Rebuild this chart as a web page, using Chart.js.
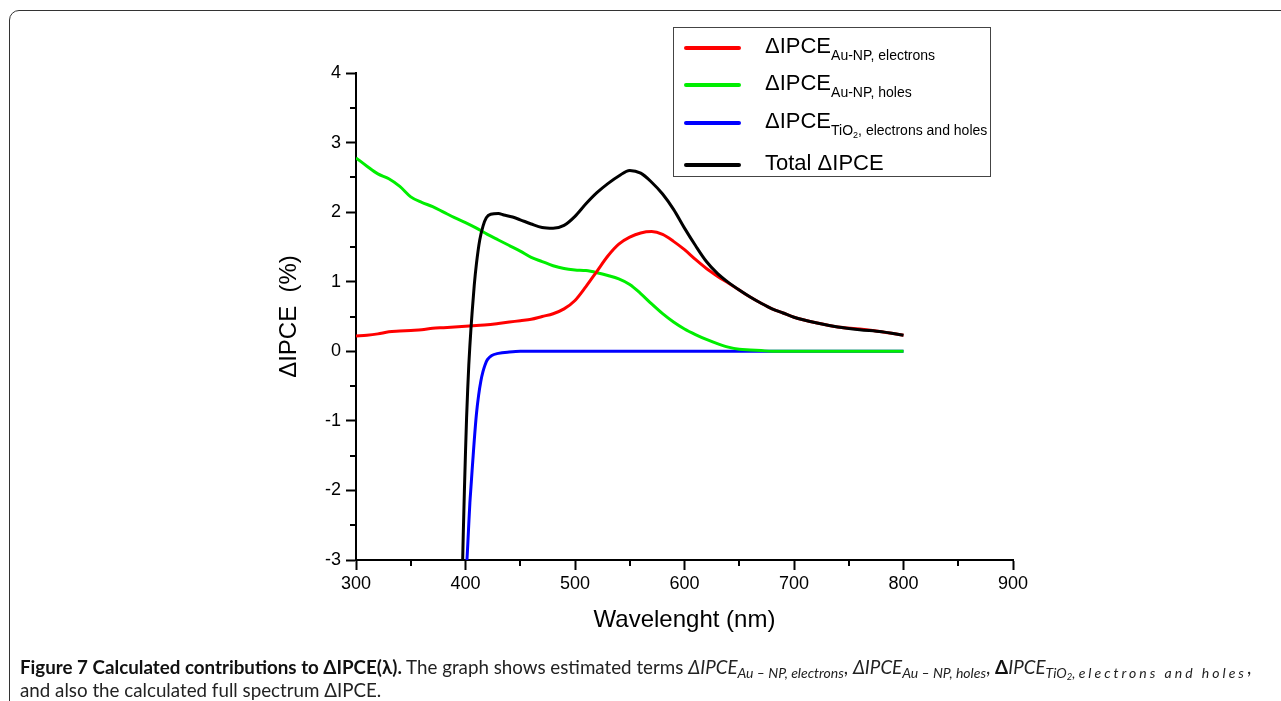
<!DOCTYPE html>
<html>
<head>
<meta charset="utf-8">
<script src="https://cdn.jsdelivr.net/npm/chart.js@4.4.1/dist/chart.umd.min.js"></script>
<style>
  body { margin: 0; background: #fff; }
  #wrap { position: relative; width: 1281px; height: 701px; overflow: hidden; }
  #frame { position: absolute; left: 9px; top: 10px; width: 1320px; height: 740px;
    border: 1.5px solid #333; border-radius: 10px; }
  #chart { position: absolute; left: 0; top: 0; }
  #legend { position: absolute; left: 673px; top: 27px; width: 316px; height: 148px;
    border: 1px solid #444; font-family: "Liberation Sans", Arial, sans-serif; color: #000; }
  .item { position: absolute; left: 0; height: 30px; width: 316px; }
  .item .ln { position: absolute; left: 10px; width: 57px; height: 4px; border-radius: 2px; }
  .item .tx { position: absolute; left: 91px; font-size: 22px; white-space: nowrap; line-height: 26px; }
  .item sub { font-size: 14px; vertical-align: -7px; line-height: 0; }
  .item sub sub { font-size: 9px; vertical-align: -3px; }
  #caption { position: absolute; left: 20px; top: 655px; font-family: Lato, sans-serif;
    font-size: 18.75px; line-height: 23px; color: #222; white-space: nowrap; }
  #caption b { color: #111; }
  #caption sub { font-size: 14px; vertical-align: -4px; line-height: 0; }
  #caption sub sub { font-size: 9.5px; vertical-align: -2px; }
  .sp { letter-spacing: 3px; }
</style>
</head>
<body>
<div id="wrap">
  <div id="frame"></div>
  <canvas id="chart" width="1281" height="701"></canvas>
  <div id="legend">
    <div class="item" style="top:3px"><div class="ln" style="top:15px;background:#ff0000"></div>
      <div class="tx" style="top:2px">&Delta;IPCE<sub>Au-NP, electrons</sub></div></div>
    <div class="item" style="top:40px"><div class="ln" style="top:15px;background:#00ee00"></div>
      <div class="tx" style="top:2px">&Delta;IPCE<sub>Au-NP, holes</sub></div></div>
    <div class="item" style="top:78px"><div class="ln" style="top:15px;background:#0000ff"></div>
      <div class="tx" style="top:2px">&Delta;IPCE<sub>TiO<sub>2</sub>, electrons and holes</sub></div></div>
    <div class="item" style="top:122px"><div class="ln" style="top:13px;background:#000"></div>
      <div class="tx" style="top:0px">Total &Delta;IPCE</div></div>
  </div>
  <div id="caption"><b>Figure 7 Calculated contributions to &Delta;IPCE(&lambda;).</b> The graph shows estimated terms <i>&Delta;IPCE</i><sub><i>Au &ndash; NP, electrons</i></sub>, <i>&Delta;IPCE</i><sub><i>Au &ndash; NP, holes</i></sub>, <b>&Delta;</b><i>IPCE</i><sub><i>TiO<sub>2</sub>, <span class="sp">electrons and holes</span></i></sub>,<br>and also the calculated full spectrum &Delta;IPCE.</div>
</div>
<script>
// wavelengths (nm) and values (%)
const elecNm = [300, 310, 320, 330, 340, 350, 360, 370, 380, 390, 400, 410, 420, 430, 440, 450, 460, 470, 480, 490, 500, 510, 520, 530, 540, 550, 560, 570, 580, 590, 600, 610, 620, 630, 640, 650, 660, 670, 680, 690, 700, 720, 740, 760, 780, 800];
const elecVal = [0.22, 0.23, 0.25, 0.28, 0.29, 0.30, 0.31, 0.33, 0.34, 0.35, 0.36, 0.37, 0.38, 0.40, 0.42, 0.44, 0.46, 0.50, 0.54, 0.61, 0.73, 0.93, 1.15, 1.37, 1.54, 1.64, 1.70, 1.72, 1.68, 1.58, 1.46, 1.32, 1.19, 1.08, 0.98, 0.88, 0.78, 0.69, 0.61, 0.55, 0.49, 0.41, 0.35, 0.32, 0.28, 0.23];

const holesNm = elecNm;
const holesVal = [2.78, 2.66, 2.55, 2.48, 2.37, 2.22, 2.14, 2.08, 2.00, 1.92, 1.85, 1.77, 1.68, 1.60, 1.52, 1.44, 1.35, 1.29, 1.23, 1.19, 1.17, 1.16, 1.13, 1.09, 1.04, 0.96, 0.83, 0.68, 0.54, 0.42, 0.32, 0.24, 0.17, 0.11, 0.06, 0.03, 0.02, 0.01, 0, 0, 0, 0, 0, 0, 0, 0];

const tioNm = [401, 402, 403, 404, 405, 406, 407, 408, 410, 412, 414, 416, 418, 420, 424, 430, 440, 450, 500, 600, 700, 800];
const tioVal = [-3.1, -2.8, -2.48, -2.18, -1.95, -1.72, -1.5, -1.28, -0.9, -0.63, -0.43, -0.29, -0.19, -0.12, -0.06, -0.03, -0.01, 0, 0, 0, 0, 0];

const totalNm = [397, 398, 399, 400, 401, 402, 403, 404, 405, 406, 408, 410, 413, 416, 419, 423, 430, 435, 443, 450, 460, 470, 480, 490, 500, 510, 520, 530, 540, 550, 560, 570, 580, 590, 600, 610, 620, 630, 640, 650, 660, 670, 680, 690, 700, 720, 740, 760, 780, 800];
const totalVal = [-3.3, -2.6, -2.0, -1.45, -0.95, -0.55, -0.2, 0.08, 0.33, 0.55, 0.95, 1.26, 1.6, 1.8, 1.92, 1.97, 1.98, 1.96, 1.93, 1.89, 1.83, 1.78, 1.77, 1.81, 1.94, 2.12, 2.28, 2.41, 2.52, 2.60, 2.56, 2.43, 2.26, 2.04, 1.77, 1.52, 1.29, 1.12, 0.99, 0.88, 0.78, 0.69, 0.61, 0.55, 0.49, 0.41, 0.35, 0.31, 0.28, 0.23];

const xTicks = [300, 400, 500, 600, 700, 800, 900];
const yTicks = [-3, -2, -1, 0, 1, 2, 3, 4];

const pts = (xs, ys) => xs.map((x, i) => ({ x: x, y: ys[i] }));

function series(label, xs, ys, color, order) {
    return {
        label: label,
        data: pts(xs, ys),
        borderColor: color,
        borderWidth: 3,
        pointRadius: 0,
        cubicInterpolationMode: 'monotone',
        fill: false,
        order: order
    };
}

// small minor ticks half way between the labelled ones
const minorTicks = {
    id: 'minorTicks',
    afterDraw(chart) {
        const ctx = chart.ctx;
        const xs = chart.scales.x, ys = chart.scales.y;
        ctx.save();
        ctx.strokeStyle = '#000';
        ctx.lineWidth = 2;
        ctx.beginPath();
        for (let i = 0; i < xTicks.length - 1; i++) {
            const px = Math.round(xs.getPixelForValue((xTicks[i] + xTicks[i + 1]) / 2));
            ctx.moveTo(px, ys.bottom);
            ctx.lineTo(px, ys.bottom + 6);
        }
        for (let i = 0; i < yTicks.length - 1; i++) {
            const py = Math.round(ys.getPixelForValue((yTicks[i] + yTicks[i + 1]) / 2));
            ctx.moveTo(xs.left, py);
            ctx.lineTo(xs.left - 6, py);
        }
        ctx.stroke();
        ctx.restore();
    }
};

const fontFam = '"Liberation Sans", Arial, sans-serif';

new Chart(document.getElementById('chart'), {
    type: 'line',
    data: {
        datasets: [
            series('ΔIPCE Au-NP, electrons', elecNm, elecVal, '#ff0000', 1),
            series('ΔIPCE Au-NP, holes', holesNm, holesVal, '#00ee00', 2),
            series('ΔIPCE TiO2, electrons and holes', tioNm, tioVal, '#0000ff', 3),
            series('Total ΔIPCE', totalNm, totalVal, '#000000', 0)
        ]
    },
    options: {
        responsive: false,
        animation: false,
        layout: { padding: { left: 268, top: 73, right: 268, bottom: 60 } },
        plugins: { legend: { display: false }, tooltip: { enabled: false } },
        scales: {
            x: {
                type: 'linear',
                min: 300,
                max: 900,
                afterBuildTicks: (s) => { s.ticks = xTicks.map(v => ({ value: v })); },
                afterFit: (s) => { s.height = 81; },
                ticks: { color: '#000', font: { family: fontFam, size: 18 }, padding: 3, maxRotation: 0 },
                grid: { drawOnChartArea: false, tickLength: 10, tickWidth: 2, tickColor: '#000' },
                border: { color: '#000', width: 2 },
                title: { display: true, text: 'Wavelenght (nm)', color: '#000',
                    font: { family: fontFam, size: 24 }, padding: { top: 0, bottom: 6 } }
            },
            y: {
                min: -3,
                max: 4,
                afterBuildTicks: (s) => { s.ticks = yTicks.map(v => ({ value: v })); },
                afterFit: (s) => { s.width = 88; },
                ticks: { color: '#000', font: { family: fontFam, size: 18 }, padding: 5 },
                grid: { drawOnChartArea: false, tickLength: 10, tickWidth: 2, tickColor: '#000' },
                border: { color: '#000', width: 2 },
                title: { display: true, text: 'ΔIPCE  (%)', color: '#000',
                    font: { family: fontFam, size: 24 }, padding: { top: 7, bottom: 0 } }
            }
        }
    },
    plugins: [minorTicks]
});
</script>
</body>
</html>
